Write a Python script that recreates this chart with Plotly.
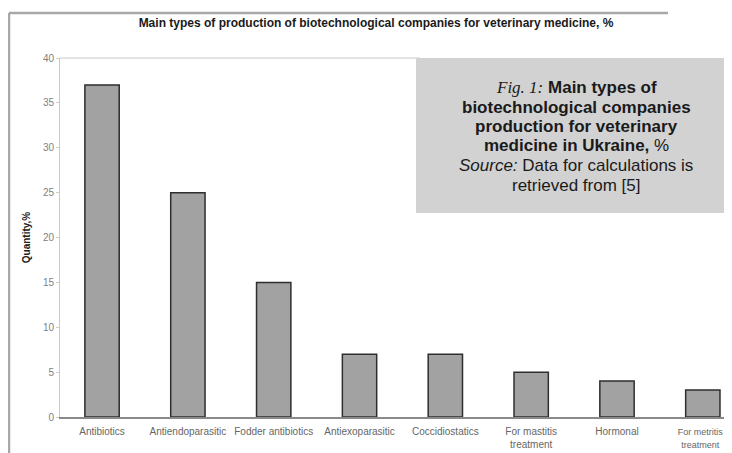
import plotly.graph_objects as go

categories = ["Antibiotics", "Antiendoparasitic", "Fodder antibiotics", "Antiexoparasitic",
              "Coccidiostatics", "For mastitis<br>treatment", "Hormonal", "For metritis<br>treatment"]
values = [37, 25, 15, 7, 7, 5, 4, 3]
y_ticks = [0, 5, 10, 15, 20, 25, 30, 35, 40]

OFF = 8  # page body margin
W, H = 732 - OFF, 453 - OFF
L, T = 60 - OFF, 58 - OFF
R = 0
B = H - (417 - OFF)
pw, ph = W - L - R, H - T - B

def px(x):
    return (x - OFF - L) / pw

def py(y):
    return (H - B - (y - OFF)) / ph

NARROW = "Liberation Sans Narrow, Liberation Sans, Arial"

# last label sits at the window edge: render it slightly smaller, nudged left with trailing spaces
tick_text = list(categories)
tick_text[-1] = ("<span style=\"font-size:9px\">For metritis&nbsp;&nbsp;</span><br>"
                 "<span style=\"font-size:9px\">treatment&nbsp;&nbsp;</span>")

fig = go.Figure()
fig.add_trace(go.Bar(
    x=categories, y=values,
    marker=dict(color="#a2a2a2", line=dict(color="#2e2e2e", width=1.5)),
    hoverinfo="x+y",
))

fig.update_layout(
    width=W, height=H,
    margin=dict(l=L, r=R, t=T, b=B, pad=0, autoexpand=False),
    paper_bgcolor="white", plot_bgcolor="white",
    bargap=0.6,
    showlegend=False,
    title=dict(text="<b>Main types of production of biotechnological companies for veterinary medicine, %</b>",
               x=(376 - OFF) / W, xanchor="center", y=1 - (23 - OFF) / H, yanchor="middle",
               font=dict(family=NARROW, size=12, color="#1a1a1a")),
    xaxis=dict(range=[-0.49, 7.34], showgrid=False, showline=True, linecolor="#8a8a8a", linewidth=1.5,
               ticks="outside", ticklen=4, tickcolor="rgba(0,0,0,0)", automargin=False,
               tickmode="array", tickvals=categories, ticktext=tick_text,
               tickfont=dict(family=NARROW, size=10, color="#666"),
               fixedrange=True, tickangle=0),
    yaxis=dict(range=[0, 40], tickvals=y_ticks, showgrid=False, showline=True, linecolor="#c8c8c8", linewidth=1,
               ticks="outside", ticklen=3, tickcolor="#cccccc", zeroline=False, automargin=False,
               tickfont=dict(family=NARROW, size=10, color="#808080"),
               title=dict(text="<b>Quantity,%</b>", standoff=10,
                          font=dict(family=NARROW, size=10, color="#222"))),
)

# outer frame lines
fig.add_shape(type="line", xref="paper", yref="paper", x0=px(9), x1=px(668), y0=py(13), y1=py(13),
              line=dict(color="#a8a8a8", width=2.5), layer="above")
fig.add_shape(type="line", xref="paper", yref="paper", x0=px(9), x1=px(9), y0=py(13), y1=py(460),
              line=dict(color="#a8a8a8", width=2.5), layer="above")
# plot top border
fig.add_shape(type="line", xref="paper", yref="paper", x0=0, x1=px(420), y0=1, y1=1,
              line=dict(color="#c8c8c8", width=1), layer="above")

# gray caption box
fig.add_shape(type="rect", xref="paper", yref="paper", x0=px(416), x1=px(740), y0=py(58), y1=py(213),
              fillcolor="#d2d2d2", line=dict(width=0), layer="above")

serif = "<span style=\"font-family:'Liberation Serif',serif;font-style:italic;font-weight:normal\">Fig. 1:</span>"
caption_lines = [
    serif + " <b>Main types of</b>",
    "<b>biotechnological companies</b>",
    "<b>production for veterinary</b>",
    "<b>medicine in Ukraine,</b> %",
    "<i>Source:</i> Data for calculations is",
    "retrieved from [5]",
]
caption_y = [87, 107, 126, 145, 165, 185]
for line, yy in zip(caption_lines, caption_y):
    fig.add_annotation(xref="paper", yref="paper", x=px(576), y=py(yy), xanchor="center", yanchor="middle",
                       text=line, showarrow=False, align="center",
                       font=dict(family="Liberation Sans, Arial", size=17, color="#1a1a1a"))

fig.write_html("out.html")
